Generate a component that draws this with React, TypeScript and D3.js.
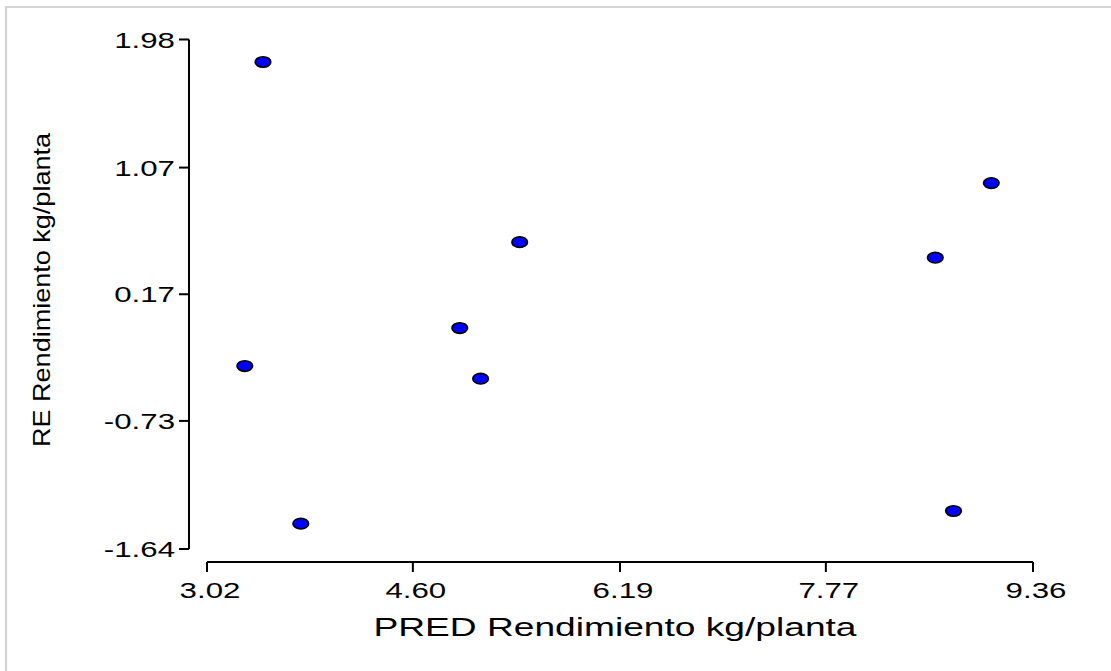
import React from "react";
import * as d3 from "d3";

// Predicted yield vs. residuals
const predValues = [3.45, 3.31, 3.74, 4.96, 5.12, 5.42, 8.61, 8.75, 9.04];
const residValues = [1.82, -0.34, -1.46, -0.07, -0.43, 0.54, 0.43, -1.37, 0.96];
const xTickValues = [3.02, 4.6, 6.19, 7.77, 9.36];
const yTickValues = [-1.64, -0.73, 0.17, 1.07, 1.98];
const xTitle = "PRED Rendimiento kg/planta";
const yTitle = "RE Rendimiento kg/planta";

const W = 1111;
const H = 671;
const FONT = "'Liberation Sans', Arial, sans-serif";
const STRETCH = 1.42;

export default function App() {
  const x = d3.scaleLinear().domain([3.02, 9.36]).range([207, 1033]);
  const y = d3.scaleLinear().domain([-1.64, 1.98]).range([549, 39.5]);
  const axisX = 189;
  const axisY = 562;

  return (
    <svg
      width={W}
      height={H}
      style={{ position: "absolute", left: 0, top: 0, background: "#fff" }}
    >
      {/* outer frame */}
      <path d={`M6,${H + 5} V7 H${W + 5}`} fill="none" stroke="#d4d4d4" strokeWidth={2.2} />

      {/* y axis */}
      <line x1={axisX} x2={axisX} y1={y(1.98)} y2={y(-1.64)} stroke="#000" strokeWidth={2} />
      {yTickValues.map((v) => (
        <g key={"y" + v}>
          <line x1={axisX - 10} x2={axisX} y1={y(v)} y2={y(v)} stroke="#000" strokeWidth={2} />
          <text
            transform={`translate(${axisX - 14},${y(v) + 8}) scale(${STRETCH},1)`}
            textAnchor="end"
            fontFamily={FONT}
            fontSize={22}
            fill="#000"
          >
            {v.toFixed(2)}
          </text>
        </g>
      ))}

      {/* x axis */}
      <line x1={x(3.02)} x2={x(9.36)} y1={axisY} y2={axisY} stroke="#000" strokeWidth={2} />
      {xTickValues.map((v) => (
        <g key={"x" + v}>
          <line x1={x(v)} x2={x(v)} y1={axisY} y2={axisY + 10} stroke="#000" strokeWidth={2} />
          <text
            transform={`translate(${x(v) + 3},598) scale(${STRETCH},1)`}
            textAnchor="middle"
            fontFamily={FONT}
            fontSize={22}
            fill="#000"
          >
            {v.toFixed(2)}
          </text>
        </g>
      ))}

      {/* axis titles */}
      <text
        x={615}
        y={636}
        textAnchor="middle"
        fontFamily={FONT}
        fontSize={25}
        textLength={483}
        lengthAdjust="spacingAndGlyphs"
        fill="#000"
      >
        {xTitle}
      </text>
      <text
        transform="translate(50,290) rotate(-90)"
        textAnchor="middle"
        fontFamily={FONT}
        fontSize={24}
        textLength={314}
        lengthAdjust="spacingAndGlyphs"
        fill="#000"
      >
        {yTitle}
      </text>

      {/* points */}
      {predValues.map((p, i) => (
        <ellipse
          key={i}
          cx={x(p)}
          cy={y(residValues[i])}
          rx={7.8}
          ry={5.3}
          fill="#0000ff"
          stroke="#000"
          strokeWidth={1.6}
        />
      ))}
    </svg>
  );
}
